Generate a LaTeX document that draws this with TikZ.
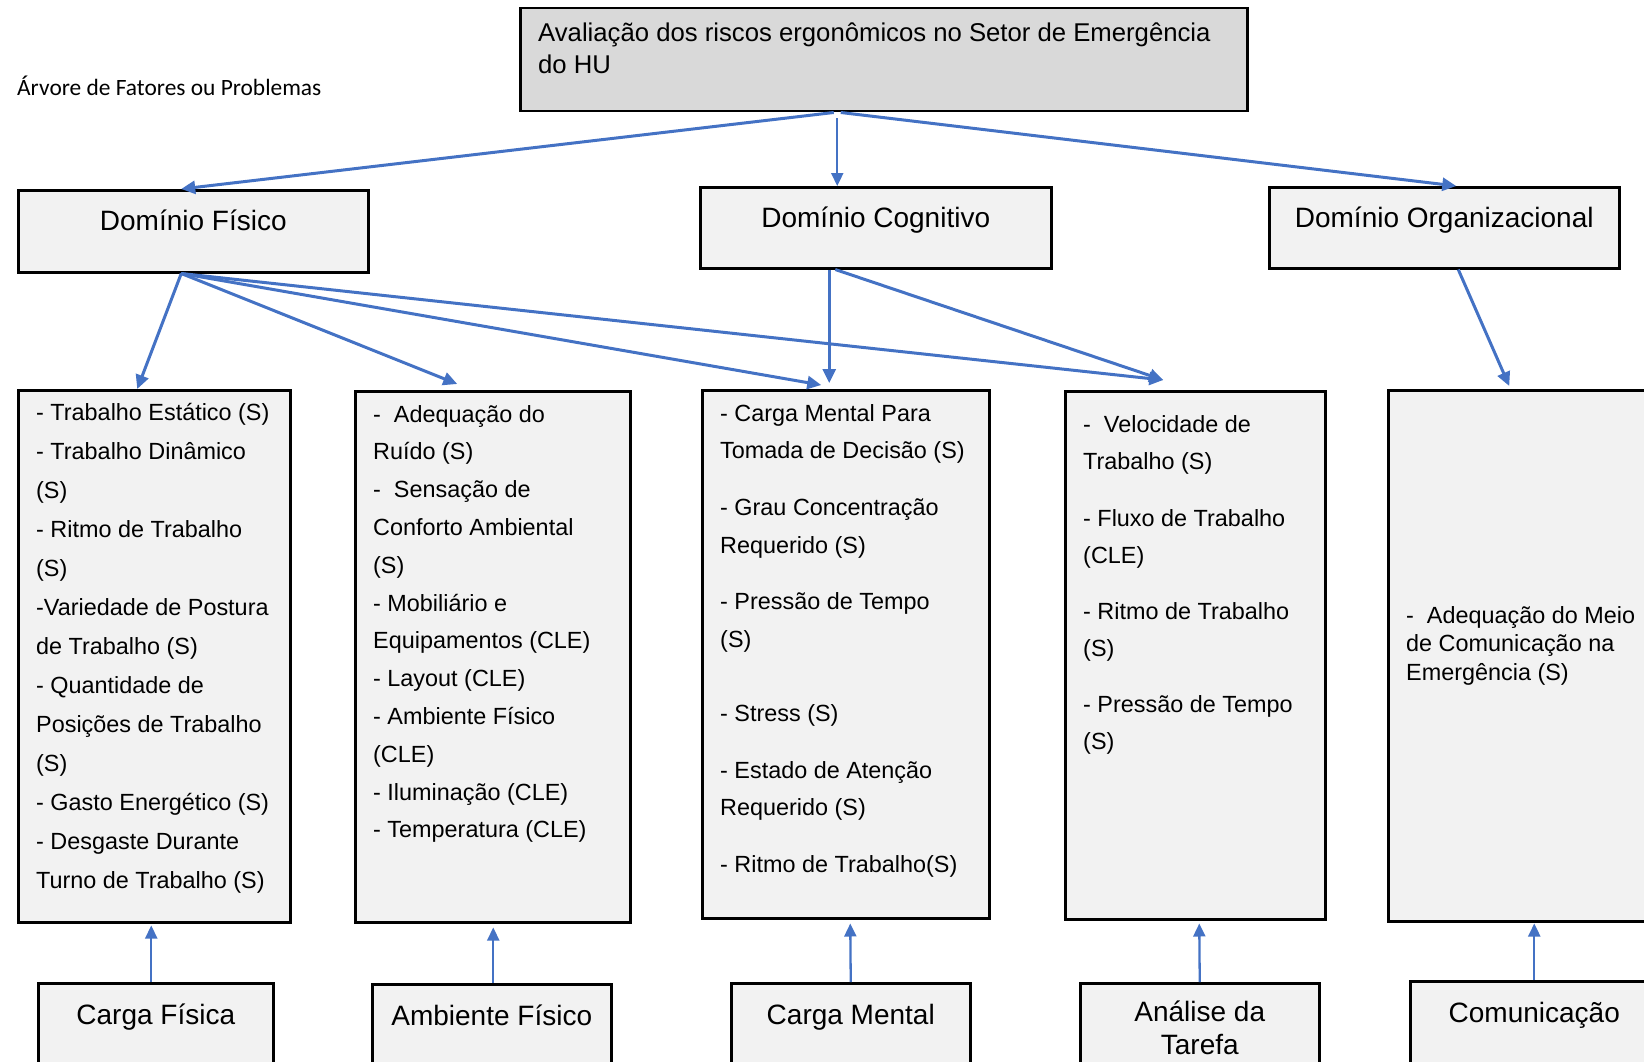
\documentclass[tikz,border=0pt]{standalone}
\usepackage{fontspec}
\setmainfont{Liberation Sans}
\newfontfamily\calibrifont{Carlito}
\usetikzlibrary{arrows.meta}
\definecolor{arrowblue}{HTML}{4472C4}
\definecolor{boxgray}{HTML}{F2F2F2}
\definecolor{topgray}{HTML}{D9D9D9}
\tikzstyle{box}=[draw=black,line width=2.5pt,fill=boxgray,anchor=north west,inner sep=0pt]
\tikzstyle{link}=[arrowblue,line width=3pt,-{Triangle[length=14pt,width=13pt]}]
\tikzstyle{thinlink}=[arrowblue,line width=2.3pt,-{Triangle[length=13pt,width=12pt]}]
\tikzstyle{domtext}=[font=\fontsize{28}{33}\selectfont,inner sep=0pt,anchor=base]
\tikzstyle{listtext}=[font=\fontsize{23.4}{39}\selectfont,align=left,anchor=north west,inner sep=0pt]

\begin{document}
\begin{tikzpicture}[x=1pt,y=-1pt]
  \useasboundingbox (0,0) rectangle (1644,1062);
  \clip (0,0) rectangle (1644,1062);

  \node[anchor=west,inner sep=0pt,font=\calibrifont\fontsize{23.4}{28}\selectfont] (title) at (17,86) {Árvore de Fatores ou Problemas};

  % top box
  \node[box,fill=topgray,minimum width=727pt,minimum height=103pt] (root) at (519,7) {};
  \node[listtext,font=\fontsize{25.7}{32.5}\selectfont] (roottext) at ([shift={(19pt,-15.5pt)}]root.north west)
    {Avaliação dos riscos ergonômicos no Setor de Emergência\\do HU};

  % domains
  \node[box,minimum width=350pt,minimum height=82pt] (df) at (17,189) {};
  \node[box,minimum width=351pt,minimum height=81pt] (dc) at (699,186) {};
  \node[box,minimum width=350pt,minimum height=81pt] (do) at (1268,186) {};
  \node[domtext] (dftext) at ([yshift=-41pt]df.north) {Domínio Físico};
  \node[domtext] (dctext) at ([yshift=-41pt]dc.north) {Domínio Cognitivo};
  \node[domtext] (dotext) at ([yshift=-41pt]do.north) {Domínio Organizacional};

  % factor lists
  \node[box,minimum width=272pt,minimum height=532pt] (b1) at (17,389) {};
  \node[box,minimum width=275pt,minimum height=531pt] (b2) at (354,390) {};
  \node[box,minimum width=287pt,minimum height=528pt] (b3) at (701,389) {};
  \node[box,minimum width=260pt,minimum height=528pt] (b4) at (1064,390) {};
  \node[box,minimum width=265pt,minimum height=531pt] (b5) at (1387,389) {};

  \node[listtext] (b1text) at ([shift={(19pt,-14.5pt)}]b1.north west)
    {- Trabalho Estático (S)\\- Trabalho Dinâmico\\(S)\\- Ritmo de Trabalho\\(S)\\
     -Variedade de Postura\\de Trabalho (S)\\- Quantidade de\\Posições de Trabalho\\(S)\\
     - Gasto Energético (S)\\- Desgaste Durante\\Turno de Trabalho (S)};
  \node[listtext,font=\fontsize{23.4}{37.8}\selectfont] (b2text) at ([shift={(19pt,-15pt)}]b2.north west)
    {-\ \ Adequação do\\Ruído (S)\\-\ \ Sensação de\\Conforto Ambiental\\(S)\\- Mobiliário e\\
     Equipamentos (CLE)\\- Layout (CLE)\\- Ambiente Físico\\(CLE)\\- Iluminação (CLE)\\- Temperatura (CLE)};
  \node[listtext,font=\fontsize{23.4}{37.7}\selectfont] (b3text) at ([shift={(19pt,-15pt)}]b3.north west)
    {- Carga Mental Para\\Tomada de Decisão (S)\\[19pt]- Grau Concentração\\Requerido (S)\\[19pt]
     - Pressão de Tempo\\(S)\\[36pt]- Stress (S)\\[19pt]- Estado de Atenção\\Requerido (S)\\[19pt]
     - Ritmo de Trabalho(S)};
  \node[listtext,font=\fontsize{23.4}{37.5}\selectfont] (b4text) at ([shift={(19pt,-25pt)}]b4.north west)
    {-\ \ Velocidade de\\Trabalho (S)\\[19pt]- Fluxo de Trabalho\\(CLE)\\[18pt]
     - Ritmo de Trabalho\\(S)\\[18pt]- Pressão de Tempo\\(S)};
  \node[listtext,font=\fontsize{23.4}{28.8}\selectfont] (b5text) at ([shift={(19pt,-217pt)}]b5.north west)
    {-\ \ Adequação do Meio\\de Comunicação na\\Emergência (S)};

  % bottom categories
  \node[box,minimum width=235pt,minimum height=120pt] (cf) at (37,982) {};
  \node[box,minimum width=239pt,minimum height=120pt] (af) at (371,983) {};
  \node[box,minimum width=239pt,minimum height=120pt] (cm) at (730,982) {};
  \node[box,minimum width=239pt,minimum height=120pt] (tsk) at (1079,982) {};
  \node[box,minimum width=248pt,minimum height=120pt] (co) at (1409,980) {};
  \node[domtext] (cftext) at ([yshift=-42pt]cf.north) {Carga Física};
  \node[domtext] (aftext) at ([yshift=-42pt]af.north) {Ambiente Físico};
  \node[domtext] (cmtext) at ([yshift=-42pt]cm.north) {Carga Mental};
  \node[domtext,align=center] (tsktext) at ([yshift=-72pt]tsk.north) {Análise da\\Tarefa};
  \node[domtext] (cotext) at ([yshift=-42pt]co.north) {Comunicação};

  % arrows from the top
  \draw[link] ([xshift=-50pt]root.south) -- ([xshift=-12pt]df.north);
  \draw[thinlink] ([xshift=-46.5pt,yshift=-6pt]root.south) -- ([xshift=-38.5pt]dc.north);
  \draw[link] ([xshift=-43pt]root.south) -- ([xshift=12pt]do.north);

  \draw[link] ([xshift=-12pt]df.south) -- ([xshift=-17pt]b1.north);
  \draw[link] ([xshift=-12pt]df.south) -- ([xshift=-35.5pt,yshift=6pt]b2.north);
  \draw[link] ([xshift=-12pt]df.south) -- ([xshift=-24.5pt,yshift=4pt]b3.north);
  \draw[link] ([xshift=-12pt]df.south) -- ([xshift=-32pt,yshift=10pt]b4.north);
  \draw[link] ([xshift=-46.5pt]dc.south) -- ([xshift=-16.5pt,yshift=6pt]b3.north);
  \draw[link] ([xshift=-40.5pt]dc.south) -- ([xshift=-32pt,yshift=10pt]b4.north);
  \draw[link] ([xshift=14pt]do.south) -- ([xshift=-11.5pt,yshift=3pt]b5.north);

  % arrows from the bottom
  \draw[thinlink] ([xshift=-4.5pt]cf.north) -- ([xshift=-3pt,yshift=-2pt]b1.south);
  \draw[thinlink] ([xshift=1.5pt]af.north) -- ([xshift=0.5pt,yshift=-4pt]b2.south);
  \draw[thinlink] (cm.north) -- ([xshift=4.5pt,yshift=-4pt]b3.south);
  \draw[thinlink] (tsk.north) -- ([xshift=4pt,yshift=-3pt]b4.south);
  \draw[thinlink] (co.north) -- ([xshift=13.5pt,yshift=-1pt]b5.south);
\end{tikzpicture}
\end{document}
